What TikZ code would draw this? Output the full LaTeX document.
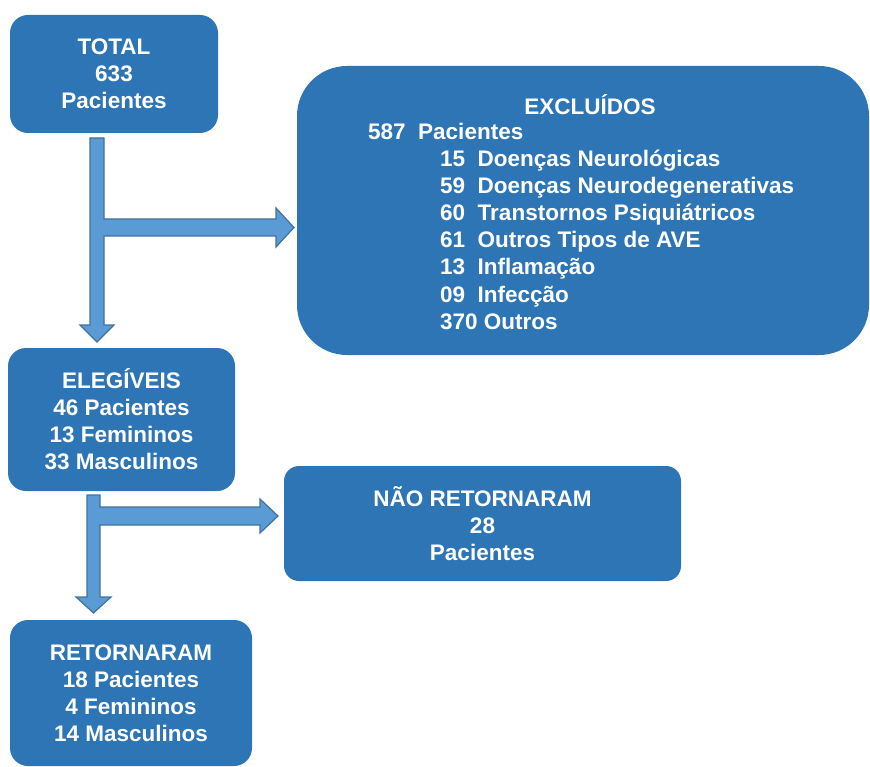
\documentclass[tikz,border=0pt]{standalone}
\usepackage{fontspec}
\setmainfont{Liberation Sans}
\definecolor{boxblue}{HTML}{2E75B6}
\definecolor{arrowfill}{HTML}{5B9BD5}
\definecolor{arrowline}{HTML}{41719C}
\begin{document}
\begin{tikzpicture}[x=1pt,y=-1pt,
  box/.style={fill=boxblue, draw=none, inner sep=0pt, rounded corners=18pt},
  btext/.style={text=white, font=\fontsize{22.5}{27}\selectfont\bfseries, align=center, inner sep=0pt},
  ltext/.style={text=white, font=\fontsize{22.5}{27}\selectfont\bfseries, inner sep=0pt, anchor=base west},
  blockarrow/.style={fill=arrowfill, draw=arrowline, line width=1.2pt, line join=miter}]
\useasboundingbox (0,0) rectangle (870,767);
% boxes
\node[box, minimum width=208pt, minimum height=118pt, btext] (total) at (114,74) {TOTAL\\633\\Pacientes};
\node[box, minimum width=572pt, minimum height=289pt, rounded corners=50pt] (excl) at (583,210.5) {};
\node[box, minimum width=227pt, minimum height=143pt, btext] (eleg) at (121.5,419.5) {ELEGÍVEIS\\46 Pacientes\\13 Femininos\\33 Masculinos};
\node[box, minimum width=397pt, minimum height=115pt, rounded corners=15pt, btext] (nao) at (482.5,523.5) {NÃO RETORNARAM\\28\\Pacientes};
\node[box, minimum width=242pt, minimum height=146pt, btext] (ret) at (131,693) {RETORNARAM\\18 Pacientes\\4 Femininos\\14 Masculinos};
% excluded text
\node[btext] (extitle) at (590,105) {EXCLUÍDOS};
\node[ltext] (ex0) at (368,140) {587\hspace{12.5pt}Pacientes};
\node[ltext] (ex1) at (440,167) {15\hspace{12.5pt}Doenças Neurológicas};
\node[ltext] (ex2) at (440,194) {59\hspace{12.5pt}Doenças Neurodegenerativas};
\node[ltext] (ex3) at (440,221) {60\hspace{12.5pt}Transtornos Psiquiátricos};
\node[ltext] (ex4) at (440,248) {61\hspace{12.5pt}Outros Tipos de AVE};
\node[ltext] (ex5) at (440,275) {13\hspace{12.5pt}Inflamação};
\node[ltext] (ex6) at (440,302) {09\hspace{12.5pt}Infecção};
\node[ltext] (ex7) at (440,329) {370 Outros};
% block arrows
\draw[blockarrow] (90,138) -- (90,325) -- (80,325) -- (97,342) -- (114,325) -- (104,325)
  -- (104,236) -- (276,236) -- (276,247) -- (294,227.5) -- (276,208) -- (276,219)
  -- (104,219) -- (104,138) -- cycle;
\draw[blockarrow] (87,495) -- (87,597) -- (76,597) -- (93.5,613) -- (111,597) -- (100,597)
  -- (100,525) -- (260,525) -- (260,533) -- (278,516) -- (260,499) -- (260,507)
  -- (100,507) -- (100,495) -- cycle;
\end{tikzpicture}
\end{document}
